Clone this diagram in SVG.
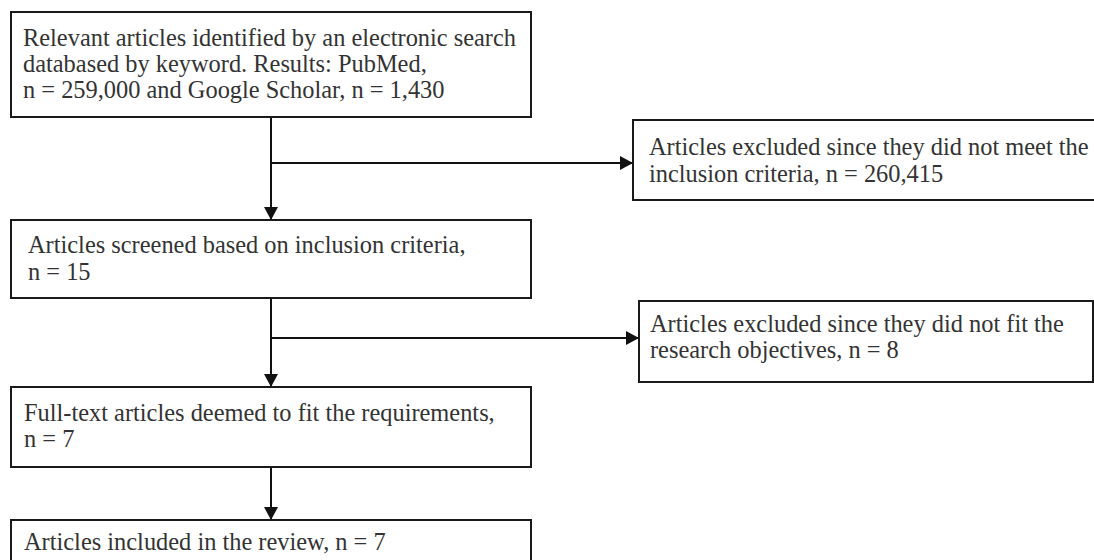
<svg xmlns="http://www.w3.org/2000/svg" width="1094" height="560" viewBox="0 0 1094 560">
  <style>
    .box { fill: #ffffff; stroke: #1a1a1a; stroke-width: 2; }
    .lbl { font-family: "Liberation Serif", "Times New Roman", serif; font-size: 24.4px; fill: #333333; }
    .conn { fill: none; stroke: #111111; stroke-width: 2; }
  </style>
  <defs>
    <marker id="arrow" viewBox="0 0 13 14" markerWidth="13" markerHeight="14" refX="13" refY="7" orient="auto" markerUnits="userSpaceOnUse">
      <path d="M0,0 L13,7 L0,14 Z" fill="#111111"/>
    </marker>
  </defs>
  <rect width="1094" height="560" fill="#ffffff"/>

  <g id="connectors">
    <line class="conn" x1="271" y1="117" x2="271" y2="220" marker-end="url(#arrow)"/>
    <line class="conn" x1="271" y1="163" x2="633" y2="163" marker-end="url(#arrow)"/>
    <line class="conn" x1="271" y1="298" x2="271" y2="387" marker-end="url(#arrow)"/>
    <line class="conn" x1="271" y1="338" x2="639" y2="338" marker-end="url(#arrow)"/>
    <line class="conn" x1="271" y1="467" x2="271" y2="520" marker-end="url(#arrow)"/>
  </g>

  <g id="node-identified">
    <rect class="box" x="11" y="12" width="520" height="105"/>
    <text class="lbl" x="23" y="46">Relevant articles identified by an electronic search</text>
    <text class="lbl" x="23" y="72">databased by keyword. Results: PubMed,</text>
    <text class="lbl" x="23" y="98">n = 259,000 and Google Scholar, n = 1,430</text>
  </g>

  <g id="node-excluded1">
    <rect class="box" x="633" y="120" width="470" height="80"/>
    <text class="lbl" x="649" y="155">Articles excluded since they did not meet the</text>
    <text class="lbl" x="649" y="182">inclusion criteria, n = 260,415</text>
  </g>

  <g id="node-screened">
    <rect class="box" x="11" y="220" width="520" height="78"/>
    <text class="lbl" x="28" y="253">Articles screened based on inclusion criteria,</text>
    <text class="lbl" x="28" y="280">n = 15</text>
  </g>

  <g id="node-excluded2">
    <rect class="box" x="639" y="301" width="454" height="81"/>
    <text class="lbl" x="650" y="332">Articles excluded since they did not fit the</text>
    <text class="lbl" x="650" y="358">research objectives, n = 8</text>
  </g>

  <g id="node-fulltext">
    <rect class="box" x="11" y="387" width="520" height="80"/>
    <text class="lbl" x="24" y="421">Full-text articles deemed to fit the requirements,</text>
    <text class="lbl" x="24" y="447">n = 7</text>
  </g>

  <g id="node-included">
    <rect class="box" x="11" y="520" width="520" height="60"/>
    <text class="lbl" x="24" y="550">Articles included in the review, n = 7</text>
  </g>
</svg>
